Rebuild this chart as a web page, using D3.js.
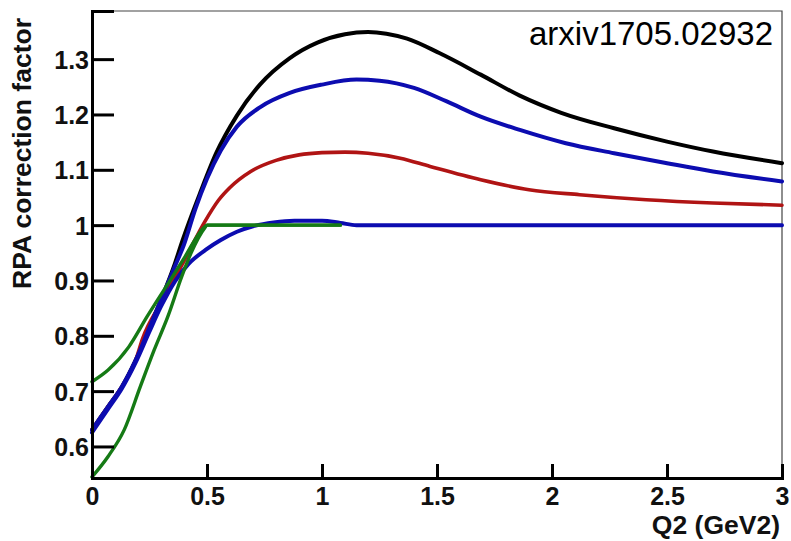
<!DOCTYPE html>
<html lang="en">
<head>
	<meta charset="UTF-8">
	<script type="text/javascript" src="https://d3js.org/d3.v7.min.js"></script>
	<title>RPA correction factor</title>
	<style>
		body { margin: 0; background: #fff; }
		.ticklabel { font-family: "Liberation Sans", Arial, sans-serif; font-weight: bold; font-size: 25px; fill: #111; }
		.axtitle { font-family: "Liberation Sans", Arial, sans-serif; font-weight: bold; font-size: 26.5px; fill: #111; }
		.tag { font-family: "Liberation Sans", Arial, sans-serif; font-size: 33px; fill: #000; }
		.curve { fill: none; stroke-linejoin: round; stroke-linecap: round; }
	</style>
</head>
<body>
<script type="text/javascript">
	// values (Q2 in GeV2, RPA factor)
	const blackQ2 = [0, 0.07, 0.13, 0.19, 0.25, 0.30, 0.36, 0.39, 0.47, 0.54, 0.63, 0.73, 0.86, 0.98, 1.10, 1.20, 1.28, 1.37, 1.51, 1.69, 1.86, 2.04, 2.27, 2.5, 2.7, 3.0];
	const blackRPA = [0.630, 0.672, 0.708, 0.756, 0.815, 0.865, 0.930, 0.968, 1.058, 1.130, 1.198, 1.254, 1.302, 1.330, 1.345, 1.349, 1.346, 1.337, 1.311, 1.272, 1.234, 1.203, 1.175, 1.151, 1.133, 1.112];

	const blueQ2 = [0, 0.07, 0.13, 0.19, 0.25, 0.30, 0.36, 0.40, 0.45, 0.50, 0.56, 0.63, 0.73, 0.86, 1.0, 1.15, 1.25, 1.4, 1.54, 1.69, 1.86, 2.06, 2.27, 2.5, 2.7, 3.0];
	const blueRPA = [0.630, 0.672, 0.708, 0.756, 0.815, 0.865, 0.925, 0.965, 1.030, 1.084, 1.135, 1.178, 1.213, 1.239, 1.254, 1.263, 1.261, 1.248, 1.224, 1.196, 1.172, 1.148, 1.130, 1.112, 1.097, 1.079];

	const redQ2 = [0, 0.07, 0.13, 0.19, 0.22, 0.30, 0.40, 0.49, 0.55, 0.60, 0.69, 0.80, 0.90, 1.00, 1.10, 1.20, 1.34, 1.47, 1.69, 1.9, 2.12, 2.41, 2.7, 3.0];
	const redRPA = [0.630, 0.672, 0.708, 0.756, 0.795, 0.860, 0.935, 1.006, 1.045, 1.068, 1.097, 1.117, 1.127, 1.131, 1.132, 1.130, 1.121, 1.106, 1.082, 1.064, 1.055, 1.046, 1.040, 1.036];

	const blue2Q2 = [0, 0.07, 0.13, 0.19, 0.25, 0.30, 0.36, 0.42, 0.50, 0.56, 0.63, 0.70, 0.79, 0.88, 1.0, 1.08, 1.15, 1.5, 2.0, 2.5, 3.0];
	const blue2RPA = [0.625, 0.668, 0.705, 0.752, 0.808, 0.853, 0.898, 0.930, 0.957, 0.973, 0.988, 0.998, 1.005, 1.008, 1.008, 1.004, 1.0, 1.0, 1.0, 1.0, 1.0];

	const greenHighQ2 = [0, 0.07, 0.16, 0.24, 0.33, 0.40, 0.49, 0.50, 1.08];
	const greenHighRPA = [0.717, 0.738, 0.780, 0.835, 0.894, 0.940, 0.997, 1.0, 1.0];

	const greenLowQ2 = [0, 0.07, 0.14, 0.21, 0.27, 0.33, 0.39, 0.43, 0.49, 0.50, 1.08];
	const greenLowRPA = [0.545, 0.582, 0.630, 0.708, 0.774, 0.835, 0.907, 0.949, 0.995, 1.0, 1.0];

	const xMajor = [0, 0.5, 1, 1.5, 2, 2.5, 3];
	const yMajor = [0.6, 0.7, 0.8, 0.9, 1.0, 1.1, 1.2, 1.3];

	const svg = d3.select("body")
			.append("svg")
			.attr("width", 791)
			.attr("height", 541),
		padL = 92, padR = 782, padT = 11, padB = 478;

	let x = d3.scaleLinear().domain([0, 3]).range([padL, padR]),
		y = d3.scaleLinear().domain([0.543, 1.387]).range([padB, padT]);

	// frame (thin, grey) top and right
	svg.append("path")
		.attr("d", "M" + padL + "," + padT + "H" + padR + "V" + padB)
		.attr("fill", "none")
		.attr("stroke", "#444")
		.attr("stroke-width", 1.2);

	// curves
	const line = d3.line()
		.x(function (d) { return x(d[0]); })
		.y(function (d) { return y(d[1]); })
		.curve(d3.curveMonotoneX);

	const series = [
		{q: blackQ2, r: blackRPA, color: "#000000", w: 4},
		{q: redQ2, r: redRPA, color: "#b01414", w: 3.6},
		{q: blueQ2, r: blueRPA, color: "#0c0cb0", w: 4},
		{q: blue2Q2, r: blue2RPA, color: "#0c0cb0", w: 4},
		{q: greenHighQ2, r: greenHighRPA, color: "#157a15", w: 3.4},
		{q: greenLowQ2, r: greenLowRPA, color: "#157a15", w: 3.4}
	];
	svg.selectAll(".curve")
		.data(series)
		.enter()
		.append("path")
		.attr("class", "curve")
		.attr("stroke", function (d) { return d.color; })
		.attr("stroke-width", function (d) { return d.w; })
		.attr("d", function (d) { return line(d.q.map(function (v, i) { return [v, d.r[i]]; })); });

	// axes: ticks point inward like ROOT
	const fmt = function (d) { return String(+d.toFixed(1)); };
	let yMinor = d3.range(0.56, 1.381, 0.02).filter(function (v) {
		return !yMajor.some(function (m) { return Math.abs(m - v) < 1e-6; });
	});
	let xMinor = d3.range(0, 3.001, 0.1).filter(function (v) {
		return !xMajor.some(function (m) { return Math.abs(m - v) < 1e-6; });
	});

	let gy = svg.append("g").attr("transform", "translate(" + padL + ",0)");
	gy.call(d3.axisLeft(y).tickValues(yMinor).tickSize(-11).tickFormat(""));
	gy.call(d3.axisLeft(y).tickValues(yMajor).tickSize(-22).tickPadding(3).tickFormat(fmt));
	let gx = svg.append("g").attr("transform", "translate(0," + padB + ")");
	gx.call(d3.axisBottom(x).tickValues(xMinor).tickSize(-7).tickFormat(""));
	gx.call(d3.axisBottom(x).tickValues(xMajor).tickSize(-14).tickPadding(9).tickFormat(fmt));

	svg.selectAll(".domain").attr("stroke", "#000").attr("stroke-width", 3);
	svg.selectAll(".tick line").attr("stroke", "#000").attr("stroke-width", 3);
	svg.selectAll(".tick text").attr("class", "ticklabel").attr("font-size", null).attr("font-family", null);
	gy.selectAll(".tick text").attr("dy", "0.36em");

	// titles
	svg.append("text")
		.attr("class", "axtitle")
		.attr("text-anchor", "end")
		.attr("x", 780)
		.attr("y", 534)
		.text("Q2 (GeV2)");
	svg.append("text")
		.attr("class", "axtitle")
		.attr("text-anchor", "end")
		.attr("transform", "translate(31,18) rotate(-90)")
		.text("RPA correction factor");
	svg.append("text")
		.attr("class", "tag")
		.attr("text-anchor", "end")
		.attr("x", 773)
		.attr("y", 45)
		.text("arxiv1705.02932");
</script>
</body>
</html>
